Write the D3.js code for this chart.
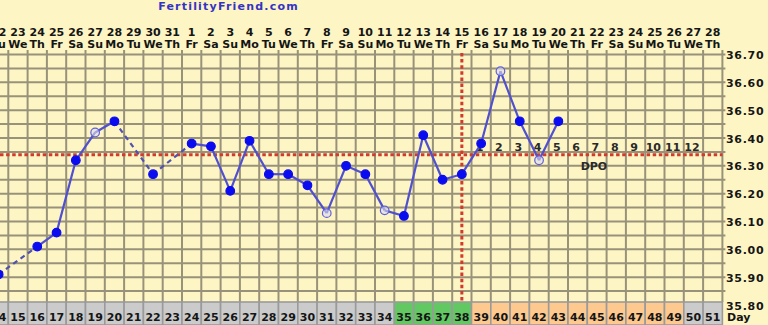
<!DOCTYPE html>
<html>
<head>
<meta charset="utf-8">
<style>
	body {
		margin: 0;
		background-color: #fef5c4;
	}
	svg {
		display: block;
		background-color: #fef5c4;
	}
	.lbl {
		font-family: "DejaVu Sans", Verdana, sans-serif;
		font-weight: bold;
		font-size: 11px;
		fill: #151515;
	}
</style>
</head>
<body>
<script src="https://d3js.org/d3.v7.min.js"></script>
<script>
	// cycle days shown on the chart, with their date and weekday
	var cycleDays = [14, 15, 16, 17, 18, 19, 20, 21, 22, 23, 24, 25, 26, 27, 28, 29, 30, 31, 32,
		33, 34, 35, 36, 37, 38, 39, 40, 41, 42, 43, 44, 45, 46, 47, 48, 49, 50, 51];
	var dates = ["22", "23", "24", "25", "26", "27", "28", "29", "30", "31", "1", "2", "3", "4", "5", "6", "7", "8", "9",
		"10", "11", "12", "13", "14", "15", "16", "17", "18", "19", "20", "21", "22", "23", "24", "25", "26", "27", "28"];
	var weekdays = ["Tu", "We", "Th", "Fr", "Sa", "Su", "Mo", "Tu", "We", "Th", "Fr", "Sa", "Su", "Mo", "Tu", "We", "Th", "Fr", "Sa",
		"Su", "Mo", "Tu", "We", "Th", "Fr", "Sa", "Su", "Mo", "Tu", "We", "Th", "Fr", "Sa", "Su", "Mo", "Tu", "We", "Th"];

	// temperatures (null = no reading)
	var temps = [35.91, null, 36.01, 36.06, 36.32, 36.42, 36.46, null, 36.27, null, 36.38, 36.37, 36.21, 36.39, 36.27, 36.27, 36.23, 36.13, 36.30,
		36.27, 36.14, 36.12, 36.41, 36.25, 36.27, 36.38, 36.64, 36.46, 36.32, 36.46, null, null, null, null, null, null, null, null];
	// readings drawn as open circles
	var openDays = [19, 31, 34, 40, 42];

	var fertileDays = [35, 36, 37, 38];
	var lutealDays = [39, 40, 41, 42, 43, 44, 45, 46, 47, 48, 49];

	var yTickLabels = ["36.70", "36.60", "36.50", "36.40", "36.30", "36.20", "36.10", "36.00", "35.90", "35.80"];
	var coverline = 36.34;
	var ovulationDay = 38;
	var dpoDays = [39, 40, 41, 42, 43, 44, 45, 46, 47, 48, 49, 50];
	var dpoLabels = ["1", "2", "3", "4", "5", "6", "7", "8", "9", "10", "11", "12"];

	var W = 768, H = 325,
		gridTop = 53, gridBottom = 302, gridRight = 722.4,
		gridColor = "#98927a", redColor = "#d23b2c";

	var svg = d3.select("body").append("svg")
		.attr("width", W)
		.attr("height", H);

	var x = d3.scaleBand()
		.domain(cycleDays)
		.range([-11, gridRight]);
	var y = d3.scaleLinear()
		.domain([35.80, 36.70])
		.range([305, 54.5]);
	function cx(d) { return x(d) + x.bandwidth() / 2; }

	// grid
	var hLines = y.ticks(18).filter(function(t) { return y(t) < gridBottom; });
	var vLines = cycleDays.slice(1).map(function(d) { return x(d); }).concat([gridRight]);
	var grid = svg.append("g");
	grid.selectAll("line.h")
		.data(hLines)
		.enter().append("line")
			.attr("class", "h")
			.attr("x1", 0)
			.attr("x2", gridRight + 3)
			.attr("y1", function(d) { return y(d); })
			.attr("y2", function(d) { return y(d); })
			.attr("stroke", gridColor)
			.attr("stroke-width", 2);
	grid.selectAll("line.v")
		.data(vLines)
		.enter().append("line")
			.attr("class", "v")
			.attr("x1", function(d) { return d; })
			.attr("x2", function(d) { return d; })
			.attr("y1", gridTop - 3)
			.attr("y2", gridBottom)
			.attr("stroke", gridColor)
			.attr("stroke-width", 2);

	// header
	svg.append("text")
		.attr("x", 228.5)
		.attr("y", 10)
		.attr("text-anchor", "middle")
		.style("font-family", "'DejaVu Sans', Verdana, sans-serif")
		.style("font-weight", "bold")
		.style("font-size", "11px")
		.style("letter-spacing", "1.2px")
		.style("fill", "#3434c4")
		.text("FertilityFriend.com");

	// date + weekday rows
	svg.append("g").selectAll("text")
		.data(cycleDays)
		.enter().append("text")
			.attr("class", "lbl")
			.attr("x", function(d) { return cx(d); })
			.attr("y", 35.5)
			.attr("text-anchor", "middle")
			.text(function(d, i) { return dates[i]; });
	svg.append("g").selectAll("text")
		.data(cycleDays)
		.enter().append("text")
			.attr("class", "lbl")
			.attr("x", function(d) { return cx(d); })
			.attr("y", 47.5)
			.attr("text-anchor", "middle")
			.text(function(d, i) { return weekdays[i]; });

	// y labels on the right
	svg.append("g").selectAll("text")
		.data(yTickLabels)
		.enter().append("text")
			.attr("class", "lbl")
			.attr("x", 726)
			.attr("y", function(d) { return y(+d) + 4.5; })
			.style("letter-spacing", "0.7px")
			.text(function(d) { return d; });

	// cycle day row
	var dayRow = svg.append("g");
	dayRow.selectAll("rect")
		.data(cycleDays)
		.enter().append("rect")
			.attr("x", function(d) { return x(d); })
			.attr("y", gridBottom)
			.attr("width", x.bandwidth())
			.attr("height", H - gridBottom)
			.attr("fill", function(d) {
				if (fertileDays.indexOf(d) >= 0) return "#62c862";
				if (lutealDays.indexOf(d) >= 0) return "#fdc98e";
				return "#cbcbcb";
			})
			.attr("stroke", "#9a9a9a")
			.attr("stroke-width", 1.6);
	dayRow.selectAll("text")
		.data(cycleDays)
		.enter().append("text")
			.attr("class", "lbl")
			.attr("x", function(d) { return cx(d); })
			.attr("y", 321)
			.attr("text-anchor", "middle")
			.text(function(d) { return d; });
	svg.append("text")
		.attr("class", "lbl")
		.attr("x", 727)
		.attr("y", 321)
		.text("Day");

	// coverline and ovulation line
	svg.append("line")
		.attr("x1", 0).attr("x2", gridRight)
		.attr("y1", y(coverline)).attr("y2", y(coverline))
		.attr("stroke", redColor).attr("stroke-width", 3)
		.attr("stroke-dasharray", "3.5,2.6");
	svg.append("line")
		.attr("x1", cx(ovulationDay)).attr("x2", cx(ovulationDay))
		.attr("y1", gridTop).attr("y2", gridBottom)
		.attr("stroke", redColor).attr("stroke-width", 3)
		.attr("stroke-dasharray", "3.5,2.6");

	// DPO labels
	svg.append("g").selectAll("text")
		.data(dpoDays)
		.enter().append("text")
			.attr("class", "lbl")
			.attr("x", function(d) { return cx(d) - 1.5; })
			.attr("y", 151)
			.attr("text-anchor", "middle")
			.style("fill", "#2a2a2a")
			.text(function(d, i) { return dpoLabels[i]; });
	svg.append("text")
		.attr("class", "lbl")
		.attr("x", cx(45) - 3)
		.attr("y", 169.5)
		.attr("text-anchor", "middle")
		.style("fill", "#2a2a2a")
		.text("DPO");

	// temperature line
	var points = cycleDays.map(function(d, i) { return {day: d, temp: temps[i]}; })
		.filter(function(p) { return p.temp !== null; });
	var segs = [];
	for (var i = 1; i < points.length; i++) {
		segs.push({a: points[i - 1], b: points[i], gap: points[i].day - points[i - 1].day > 1});
	}
	svg.append("g").selectAll("line")
		.data(segs)
		.enter().append("line")
			.attr("x1", function(s) { return cx(s.a.day); })
			.attr("y1", function(s) { return y(s.a.temp); })
			.attr("x2", function(s) { return cx(s.b.day); })
			.attr("y2", function(s) { return y(s.b.temp); })
			.attr("stroke", function(s) { return s.gap ? "#5151b0" : "#5050cf"; })
			.attr("stroke-width", 2.2)
			.attr("stroke-dasharray", function(s) { return s.gap ? "5,4" : null; });

	svg.append("g").selectAll("circle")
		.data(points)
		.enter().append("circle")
			.attr("cx", function(p) { return cx(p.day); })
			.attr("cy", function(p) { return y(p.temp); })
			.attr("r", 4.3)
			.attr("fill", function(p) { return openDays.indexOf(p.day) >= 0 ? "#dcdcf0" : "#0b0bf0"; })
			.attr("fill-opacity", function(p) { return openDays.indexOf(p.day) >= 0 ? 0.6 : 1; })
			.attr("stroke", function(p) { return openDays.indexOf(p.day) >= 0 ? "#6060d8" : "#0b0bf0"; })
			.attr("stroke-width", 1.2);
</script>
</body>
</html>
